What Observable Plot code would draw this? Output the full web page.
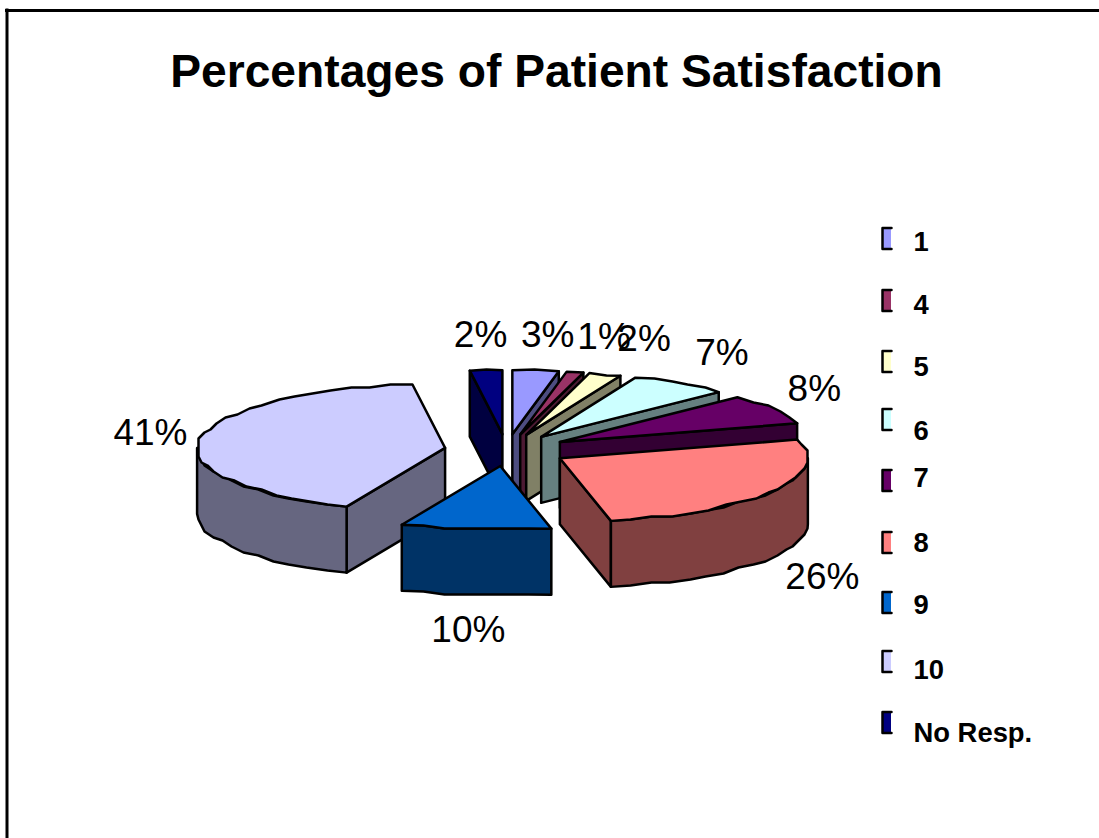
<!DOCTYPE html>
<html>
<head>
<meta charset="utf-8">
<script src="https://cdn.jsdelivr.net/npm/d3@7"></script>
<script src="https://cdn.jsdelivr.net/npm/@observablehq/plot@0.6"></script>
<style>
html,body{margin:0;padding:0;background:#fff;overflow:hidden}
svg{display:block}
</style>
</head>
<body>
<div id="chart"></div>
<script>
const categories = ["1", "4", "5", "6", "7", "8", "9", "10", "No Resp."];
const percents = [3, 1.1, 2.1, 6.5, 7.6, 26.4, 9.8, 41.4, 2.1];
const topColors = ["#9999FF", "#993366", "#FFFFCC", "#CCFFFF", "#660066", "#FF8080", "#0066CC", "#CCCCFF", "#000080"];
const sideColors = ["#4D4D80", "#4D1A33", "#808066", "#668080", "#330033", "#804040", "#003366", "#666680", "#000040"];
const titleText = "Percentages of Patient Satisfaction";

// Layout of the figure
const W = 1099, H = 838;
const pie = {cx: 506, cy: 449.6, rx: 248, ry: 64, depth: 66, explode: 0.25, grid: 3, stepDeg: 5};
const paintOrder = [8, 0, 1, 2, 3, 4, 5, 7, 6];
const labelNudge = [[12, -35], [29, -35], [39, -35], [42, -31], [41, -20], [49, 86], [-7, 100], [-49, -6], [-5.5, -35]];
const swatchY = [238, 300, 361, 419, 480, 542, 602, 661, 722];
const legendTextY = [241.5, 305, 367, 431, 478, 543, 605, 670, 733];
const swatch = {x1: 882, x2: 891, half: 10.5};
const legendTextX = 913;

// Turn the percentages into wedges
const total = d3.sum(percents);
const rad = d => d * Math.PI / 180;
const snap = v => Math.round(v / pie.grid) * pie.grid;
const cumulative = d3.cumsum(percents);
const wedges = categories.map((name, i) => {
  const a0 = (cumulative[i] - percents[i]) / total * 360;
  const a1 = cumulative[i] / total * 360;
  const mid = rad((a0 + a1) / 2);
  const ax = pie.cx + pie.explode * pie.rx * Math.sin(mid);
  const ay = pie.cy - pie.explode * pie.ry * Math.cos(mid);
  const rim = deg => {
    const t = rad(deg);
    return [ax + pie.rx * Math.sin(t), ay - pie.ry * Math.cos(t)];
  };
  return {name, i, a0, a1, mid, ax, ay, rim};
});

function arc(w, from, to) {
  const n = Math.max(1, Math.round((to - from) / pie.stepDeg));
  return d3.range(n + 1).map(k => {
    const p = w.rim(from + (to - from) * k / n);
    return k === 0 || k === n ? p : [snap(p[0]), snap(p[1])];
  });
}

const faces = [];
function addFace(id, color, pts) {
  pts.forEach(([x, y]) => faces.push({id, color, x, y}));
}
for (const i of paintOrder) {
  const w = wedges[i], d = pie.depth, side = sideColors[i];
  const apex = [w.ax, w.ay];
  const cut = (tag, deg) => {
    const r = w.rim(deg);
    addFace(`${w.name}-${tag}`, side, [apex, r, [r[0], r[1] + d], [apex[0], apex[1] + d]]);
  };
  if (w.a0 > 180 && w.a0 < 360) cut("start", w.a0);
  if (w.a1 > 0 && w.a1 < 180) cut("end", w.a1);
  const from = Math.max(w.a0, 90), to = Math.min(w.a1, 270);
  if (to > from) {
    const pts = arc(w, from, to);
    addFace(`${w.name}-rim`, side, [...pts, ...pts.slice().reverse().map(([x, y]) => [x, y + d])]);
  }
  addFace(`${w.name}-top`, topColors[i], [apex, ...arc(w, w.a0, w.a1)]);
}

const pctLabels = wedges.map(w => ({
  text: `${Math.round(percents[w.i])}%`,
  x: pie.cx + (1 + pie.explode) * pie.rx * Math.sin(w.mid) + labelNudge[w.i][0],
  y: pie.cy - (1 + pie.explode) * pie.ry * Math.cos(w.mid) + labelNudge[w.i][1]
}));

const legendRows = categories.map((name, i) => ({name, i, color: topColors[i], yc: swatchY[i], yt: legendTextY[i]}));
const swatchEdges = legendRows.flatMap(r => [
  {i: r.i, x: swatch.x2, y: r.yc - swatch.half},
  {i: r.i, x: swatch.x1, y: r.yc - swatch.half},
  {i: r.i, x: swatch.x1, y: r.yc + swatch.half},
  {i: r.i, x: swatch.x2, y: r.yc + swatch.half}
]);

const chart = Plot.plot({
  width: W, height: H,
  margin: 0,
  style: {background: "#fff", fontFamily: "'Liberation Sans', Arial, sans-serif"},
  x: {domain: [0, W], range: [0, W], axis: null},
  y: {domain: [0, H], range: [0, H], axis: null},
  color: {type: "identity"},
  marks: [
    Plot.ruleY([10], {x1: 5, x2: W, stroke: "#000", strokeWidth: 3}),
    Plot.ruleX([6.5], {y1: 8.5, y2: H, stroke: "#000", strokeWidth: 3}),
    Plot.text([titleText], {
      x: 556, y: 72, text: d => d, fontSize: 46.2, fontWeight: "bold", fill: "#000",
      textAnchor: "middle", lineAnchor: "middle"
    }),
    Plot.line(faces, {
      x: "x", y: "y", z: "id", fill: "color", stroke: "#000", strokeWidth: 2.5,
      curve: "linear-closed", strokeLinejoin: "round"
    }),
    Plot.text(pctLabels, {
      x: "x", y: "y", text: "text", fontSize: 37, fill: "#000",
      textAnchor: "middle", lineAnchor: "middle"
    }),
    Plot.rect(legendRows, {
      x1: swatch.x1, x2: swatch.x2,
      y1: d => d.yc - swatch.half, y2: d => d.yc + swatch.half,
      fill: "color"
    }),
    Plot.line(swatchEdges, {x: "x", y: "y", z: "i", stroke: "#000", strokeWidth: 2.5, curve: "linear"}),
    Plot.text(legendRows, {
      x: legendTextX, y: "yt", text: "name", fontSize: 27.4, fontWeight: "bold", fill: "#000",
      textAnchor: "start", lineAnchor: "middle"
    })
  ]
});
document.getElementById("chart").appendChild(chart);
</script>
</body>
</html>
